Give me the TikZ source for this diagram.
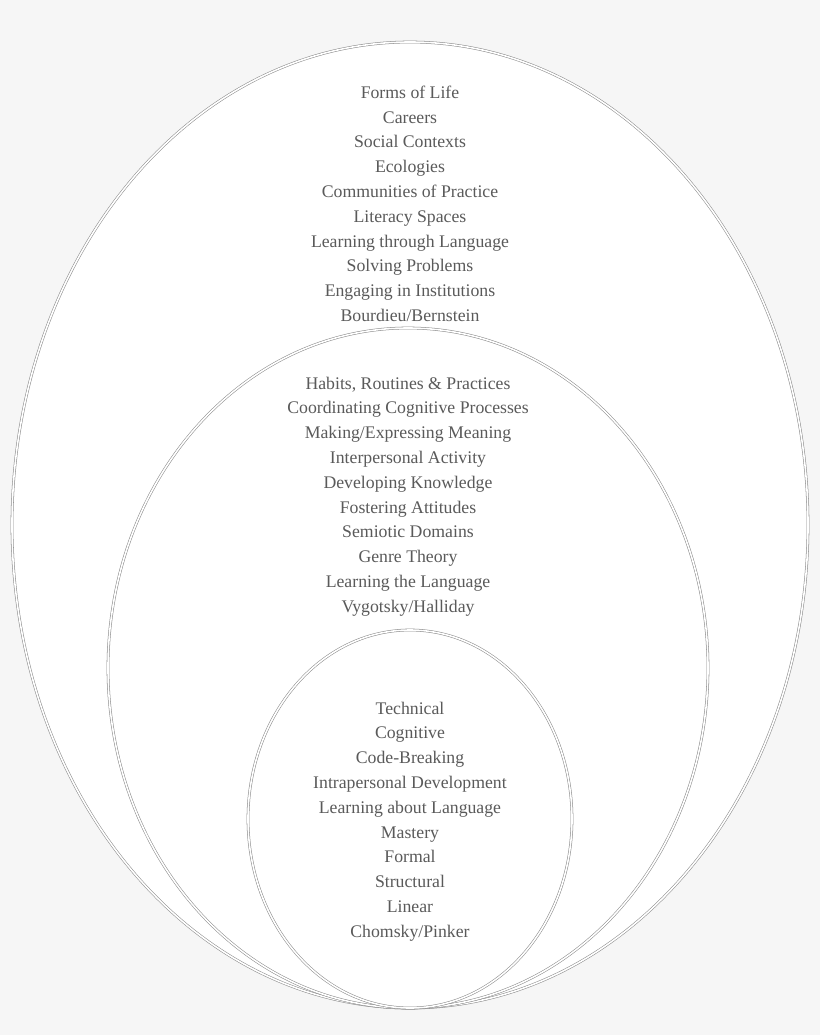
\documentclass[tikz,border=0pt]{standalone}
\usepackage{fontspec}
\setmainfont{Liberation Serif}
\definecolor{bgcol}{HTML}{F6F6F6}
\definecolor{ringcol}{HTML}{8A8A8A}
\definecolor{txtcol}{HTML}{5A5A5A}
\begin{document}
\begin{tikzpicture}[x=0.75pt,y=-0.75pt,
    ring/.style={draw=ringcol,double=white,double distance=1.2pt,line width=0.4pt,fill=white},
    stack/.style={text=txtcol,align=center,font=\fontsize{13.3}{18.6}\selectfont,anchor=north}]
  \fill[bgcol] (0,0) rectangle (820,1035);
  \draw[ring] (410,525) ellipse [x radius=398,y radius=483];
  \draw[ring] (408,668) ellipse [x radius=300,y radius=340];
  \draw[ring] (410,819) ellipse [x radius=162,y radius=189];

  \node[stack] (outer) at (410,81) {Forms of Life\\Careers\\Social Contexts\\Ecologies\\Communities of Practice\\Literacy Spaces\\Learning through Language\\Solving Problems\\Engaging in Institutions\\Bourdieu/Bernstein};
  \node[stack] (middle) at (408,372) {Habits, Routines \& Practices\\Coordinating Cognitive Processes\\Making/Expressing Meaning\\Interpersonal Activity\\Developing Knowledge\\Fostering Attitudes\\Semiotic Domains\\Genre Theory\\Learning the Language\\Vygotsky/Halliday};
  \node[stack] (inner) at (410,697) {Technical\\Cognitive\\Code-Breaking\\Intrapersonal Development\\Learning about Language\\Mastery\\Formal\\Structural\\Linear\\Chomsky/Pinker};
\end{tikzpicture}
\end{document}
